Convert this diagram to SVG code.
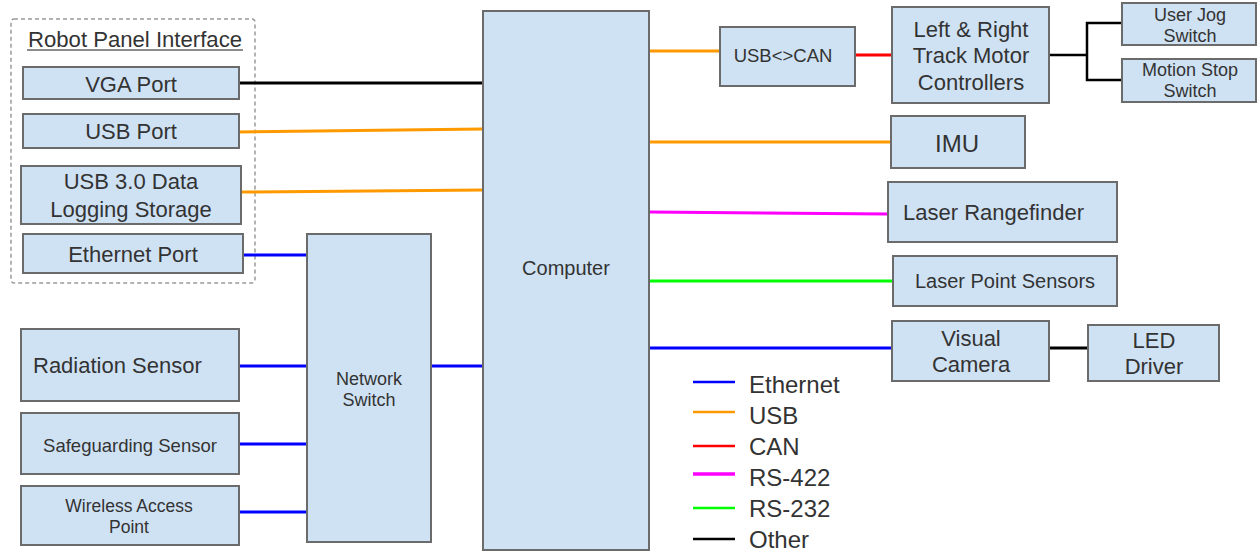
<svg xmlns="http://www.w3.org/2000/svg" width="1257" height="552" viewBox="0 0 1257 552">
<style>
.box{fill:#cfe2f3;stroke:#6b6b6b;stroke-width:2}
text{font-family:"Liberation Sans",Arial,sans-serif;fill:#333;text-anchor:middle}
.ln{fill:none;stroke-width:3}
.lg{fill:none;stroke-width:2.5}
.k{stroke:#000}.o{stroke:#ff9900}.b{stroke:#0000ff}.r{stroke:#ff0000}.m{stroke:#ff00ff}.g{stroke:#00ff00}
</style>
<rect width="1257" height="552" fill="#fff"/>
<g id="panel">
<rect x="11" y="19" width="244" height="264" rx="3" fill="none" stroke="#9a9a9a" stroke-width="1.5" stroke-dasharray="4,3"/>
<text x="135" y="47" font-size="22" fill="#444" textLength="214" lengthAdjust="spacingAndGlyphs">Robot Panel Interface</text>
<line x1="27" y1="50" x2="243" y2="50" stroke="#666" stroke-width="1.5"/>
</g>
<g id="connectors">
<line class="ln k" x1="239" y1="83" x2="483" y2="83"/>
<line class="ln o" x1="239" y1="132" x2="483" y2="129"/>
<line class="ln o" x1="241" y1="192" x2="483" y2="190"/>
<line class="ln b" x1="243" y1="255" x2="307" y2="255"/>
<line class="ln b" x1="239" y1="366" x2="307" y2="366"/>
<line class="ln b" x1="239" y1="444" x2="307" y2="444"/>
<line class="ln b" x1="239" y1="512" x2="307" y2="512"/>
<line class="ln b" x1="431" y1="366" x2="483" y2="366"/>
<line class="ln o" x1="649" y1="51" x2="720" y2="51"/>
<line class="ln r" x1="855" y1="55" x2="892" y2="55"/>
<polyline class="ln k" points="1049,55 1087,55" style="stroke-width:2.5"/>
<polyline class="ln k" points="1122,23 1087,23 1087,80 1122,80" style="stroke-width:2.5"/>
<line class="ln o" x1="649" y1="142" x2="891" y2="142"/>
<line class="ln m" x1="649" y1="212" x2="888" y2="214"/>
<line class="ln g" x1="649" y1="281" x2="893" y2="281"/>
<line class="ln b" x1="649" y1="348" x2="892" y2="348"/>
<line class="ln k" x1="1049" y1="348" x2="1088" y2="348"/>
</g>
<g id="vga"><rect class="box" x="23" y="67" width="216" height="32"/><text x="131" y="92" font-size="22">VGA Port</text></g>
<g id="usbport"><rect class="box" x="23" y="114" width="216" height="34"/><text x="131" y="139" font-size="22">USB Port</text></g>
<g id="usbstorage"><rect class="box" x="21" y="166" width="220" height="58"/><text x="131" y="189" font-size="22">USB 3.0 Data</text><text x="131" y="217" font-size="22">Logging Storage</text></g>
<g id="ethport"><rect class="box" x="23" y="234" width="220" height="39"/><text x="133" y="262" font-size="22">Ethernet Port</text></g>
<g id="radiation"><rect class="box" x="21" y="329" width="218" height="72"/><text x="33" y="373" font-size="22" style="text-anchor:start">Radiation Sensor</text></g>
<g id="safeguard"><rect class="box" x="21" y="413" width="218" height="61"/><text x="130" y="452" font-size="18.5">Safeguarding Sensor</text></g>
<g id="wireless"><rect class="box" x="21" y="486" width="218" height="59"/><text x="129" y="512" font-size="17.5">Wireless Access</text><text x="129" y="533" font-size="17.5">Point</text></g>
<g id="switch"><rect class="box" x="307" y="234" width="124" height="308"/><text x="369" y="385" font-size="18">Network</text><text x="369" y="406" font-size="18">Switch</text></g>
<g id="computer"><rect class="box" x="483" y="11" width="166" height="539"/><text x="566" y="275" font-size="20">Computer</text></g>
<g id="usbcan"><rect class="box" x="720" y="27" width="135" height="59"/><text x="783" y="62" font-size="18.5">USB&lt;&gt;CAN</text></g>
<g id="motors"><rect class="box" x="892" y="7" width="157" height="96"/><text x="971" y="37" font-size="22">Left &amp; Right</text><text x="971" y="63" font-size="22">Track Motor</text><text x="971" y="90" font-size="22">Controllers</text></g>
<g id="jog"><rect class="box" x="1122" y="3" width="134" height="42"/><text x="1190" y="21" font-size="18">User Jog</text><text x="1190" y="42" font-size="18">Switch</text></g>
<g id="stop"><rect class="box" x="1122" y="59" width="134" height="43"/><text x="1190" y="76" font-size="18">Motion Stop</text><text x="1190" y="97" font-size="18">Switch</text></g>
<g id="imu"><rect class="box" x="891" y="116" width="134" height="52"/><text x="957" y="152" font-size="24">IMU</text></g>
<g id="rangefinder"><rect class="box" x="888" y="182" width="229" height="60"/><text x="903" y="220" font-size="22" style="text-anchor:start">Laser Rangefinder</text></g>
<g id="pointsensors"><rect class="box" x="893" y="256" width="224" height="50"/><text x="1005" y="288" font-size="20">Laser Point Sensors</text></g>
<g id="camera"><rect class="box" x="892" y="321" width="157" height="60"/><text x="971" y="346" font-size="22">Visual</text><text x="971" y="372" font-size="22">Camera</text></g>
<g id="led"><rect class="box" x="1088" y="325" width="131" height="56"/><text x="1154" y="348" font-size="22">LED</text><text x="1154" y="374" font-size="22">Driver</text></g>
<g id="legend">
<line class="lg b" x1="693" y1="382" x2="735" y2="382"/><text x="749" y="393" font-size="24" style="text-anchor:start">Ethernet</text>
<line class="lg o" x1="693" y1="412" x2="735" y2="412"/><text x="749" y="424" font-size="24" style="text-anchor:start">USB</text>
<line class="lg r" x1="693" y1="446" x2="735" y2="446"/><text x="749" y="455" font-size="24" style="text-anchor:start">CAN</text>
<line class="lg m" x1="693" y1="474" x2="735" y2="474" style="stroke-width:3.5"/><text x="749" y="486" font-size="24" style="text-anchor:start">RS-422</text>
<line class="lg g" x1="693" y1="508" x2="735" y2="508"/><text x="749" y="517" font-size="24" style="text-anchor:start">RS-232</text>
<line class="lg k" x1="693" y1="539" x2="735" y2="539"/><text x="749" y="548" font-size="24" style="text-anchor:start">Other</text>
</g>
</svg>
